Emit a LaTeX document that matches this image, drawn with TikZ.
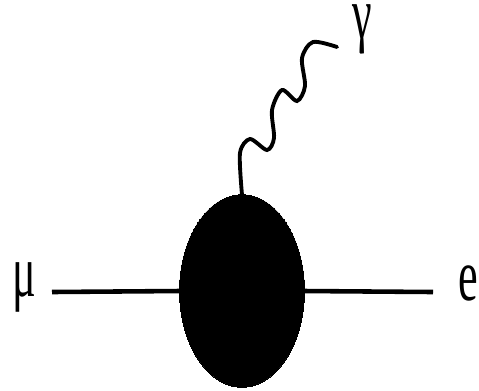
\documentclass[tikz,border=0pt]{standalone}
\usepackage{fontspec}
\setmainfont{Liberation Serif}
\usetikzlibrary{shapes.geometric}
\begin{document}
\begin{tikzpicture}[x=0.02cm, y=-0.02cm, line width=2.6pt]
\useasboundingbox (0,0) rectangle (479,390);
\tikzset{lbl/.style={font=\fontsize{42}{44}\selectfont, xscale=0.6, inner sep=0pt, anchor=base}}
\node[ellipse, fill=black, draw=black, line width=0pt, minimum width=2.5cm, minimum height=3.85cm, inner sep=0pt] (blob) at (242,291) {};
\node[lbl] (mu) at (24,296) {μ};
\node[lbl] (el) at (468,300) {e};
\node[lbl] (gam) at (362,38) {γ};
\coordinate (muend) at (52,292);
\coordinate (elend) at (433,292);
\coordinate (gend) at (337,47);
\draw (muend) -- (blob.west);
\draw (blob.east) -- (elend);
% photon
\draw[line width=2.2pt, line cap=round] plot[smooth] coordinates {(blob.north) (240,153) (250,139) (267,150) (274,138) (272,110) (282,90) (297,101) (305,86) (302,58) (313,42) (gend)};
\end{tikzpicture}
\end{document}
